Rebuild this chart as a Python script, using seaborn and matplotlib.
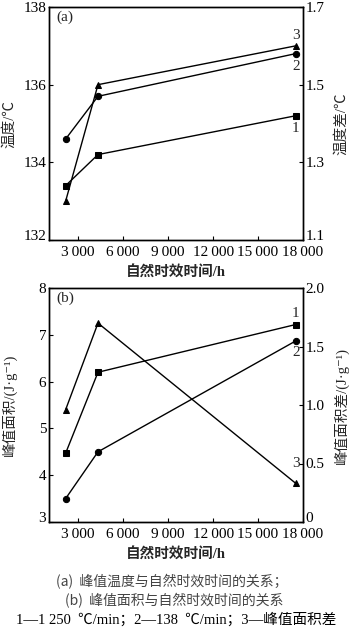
import matplotlib
matplotlib.use("Agg")
import matplotlib.pyplot as plt
import matplotlib.ticker as mticker
import matplotlib.transforms as mtrans
import seaborn as sns
import pandas as pd

# ---- data ----
aging_hours = [2160, 4320, 17520]
# panel (a)
temp_1250 = [133.4, 134.2, 135.2]      # series 1, left axis
temp_138 = [134.6, 135.7, 136.8]       # series 2, left axis
temp_diff = [1.20, 1.50, 1.60]         # series 3, right axis
# panel (b)
area_1250 = [4.47, 6.20, 7.22]         # series 1, left axis
area_138 = [3.50, 4.50, 6.87]          # series 2, left axis
area_diff = [0.96, 1.70, 0.33]         # series 3, right axis

x_ticks = [3000, 6000, 9000, 12000, 15000, 18000]
a_left_ticks = [132, 134, 136, 138]
a_right_ticks = [1.1, 1.3, 1.5, 1.7]
b_left_ticks = [3, 4, 5, 6, 7, 8]
b_right_ticks = [0, 0.5, 1.0, 1.5, 2.0]

xlabel = "自然时效时间/h"
a_ylabel = "温度/℃"
a_ylabel2 = "温度差/℃"
b_ylabel = "峰值面积/(J·g⁻¹)"
b_ylabel2 = "峰值面积差/(J·g⁻¹)"
caption = ["(a)  峰值温度与自然时效时间的关系；",
           "(b)  峰值面积与自然时效时间的关系",
           "1—1 250  ℃/min；2—138  ℃/min；3—峰值面积差"]

sns.set_theme(style="ticks")
FAM = ["Liberation Serif", "Noto Sans CJK SC", "DejaVu Sans"]
CJK = ["Noto Sans CJK SC", "Liberation Serif", "DejaVu Sans"]
plt.rcParams["font.family"] = FAM
plt.rcParams["axes.unicode_minus"] = False

W, H = 350, 638
fig = plt.figure(figsize=(W / 100, H / 100), dpi=100)

def box(l, t, r, b):
    return [l / W, 1 - b / H, (r - l) / W, (b - t) / H]

ax_a = fig.add_axes(box(49, 7, 303, 240))
ax_b = fig.add_axes(box(49, 288, 303, 522))

fmt = mticker.FuncFormatter(lambda v, p: f"{int(v):,}".replace(",", "\u2009"))

def draw(ax, s1, s2, s3, ylim, y2lim, lt, rt, yl, yl2, tag, lab_off):
    df = pd.DataFrame({"h": aging_hours, "s1": s1, "s2": s2, "s3": s3})
    kw = dict(color="black", linewidth=1.0, markeredgecolor="black",
              markerfacecolor="black")
    sns.lineplot(data=df, x="h", y="s1", ax=ax, marker="s", markersize=4.5, **kw)
    sns.lineplot(data=df, x="h", y="s2", ax=ax, marker="o", markersize=4.5, **kw)
    ax2 = ax.twinx()
    sns.lineplot(data=df, x="h", y="s3", ax=ax2, marker="^", markersize=4.5, **kw)
    ax.set_xlim(1050, 18000)
    ax.set_ylim(*ylim)
    ax2.set_ylim(*y2lim)
    ax.set_xticks(x_ticks)
    ax.xaxis.set_major_formatter(fmt)
    ax.set_yticks(lt)
    ax2.set_yticks(rt)
    ax2.set_yticklabels(["0" if v == 0 else f"{v:.1f}" for v in rt])
    for a in (ax, ax2):
        a.tick_params(direction="in", length=3, width=0.8, labelsize=11,
                      colors="black", pad=2)
        for s in a.spines.values():
            s.set_linewidth(1.0)
            s.set_color("black")
    ax.tick_params(axis="x", pad=4)
    ax.set_xlabel(xlabel, fontsize=10.5, fontweight="bold", family=FAM, va="center")
    ax.set_ylabel(yl, fontsize=10.5, family=FAM, va="center")
    ax2.set_ylabel(yl2, fontsize=10.5, family=FAM, va="center", rotation=90)
    ax.xaxis.set_label_coords(0.5, -0.135)
    ax.yaxis.set_label_coords(-0.155, 0.5)
    ax2.yaxis.set_label_coords(1.15, 0.5)
    ax.text(0.03, 0.985, tag, transform=ax.transAxes, ha="left", va="top", fontsize=11)
    # nudge bottom tick labels up a little, as in the reference
    up = mtrans.ScaledTranslation(0, 5 / 100, fig.dpi_scale_trans)
    for a in (ax, ax2):
        lab = a.get_yticklabels()[0]
        lab.set_transform(lab.get_transform() + up)
    # series numbers
    for axis, ser, name, off in [(ax, s1, "1", lab_off[0]), (ax, s2, "2", lab_off[1]),
                                 (ax2, s3, "3", lab_off[2])]:
        axis.annotate(name, (aging_hours[-1], ser[-1]), textcoords="offset pixels",
                      xytext=(0, off), ha="center", va="center", fontsize=11)
    return ax2

draw(ax_a, temp_1250, temp_138, temp_diff, (132, 138), (1.1, 1.7),
     a_left_ticks, a_right_ticks, a_ylabel, a_ylabel2, "(a)", (-13, -13, 10))
draw(ax_b, area_1250, area_138, area_diff, (3, 8), (0, 2.0),
     b_left_ticks, b_right_ticks, b_ylabel, b_ylabel2, "(b)", (11, -12, 20))

fig.text(172 / W, 1 - 582 / H, caption[0], ha="center", va="center",
         fontsize=10, family=CJK, color="#444444")
fig.text(174 / W, 1 - 601 / H, caption[1], ha="center", va="center",
         fontsize=10, family=CJK, color="#444444")
fig.text(176 / W, 1 - 620 / H, caption[2], ha="center", va="center",
         fontsize=10.5, family=FAM, color="black")

fig.savefig("out.png", dpi=100)
